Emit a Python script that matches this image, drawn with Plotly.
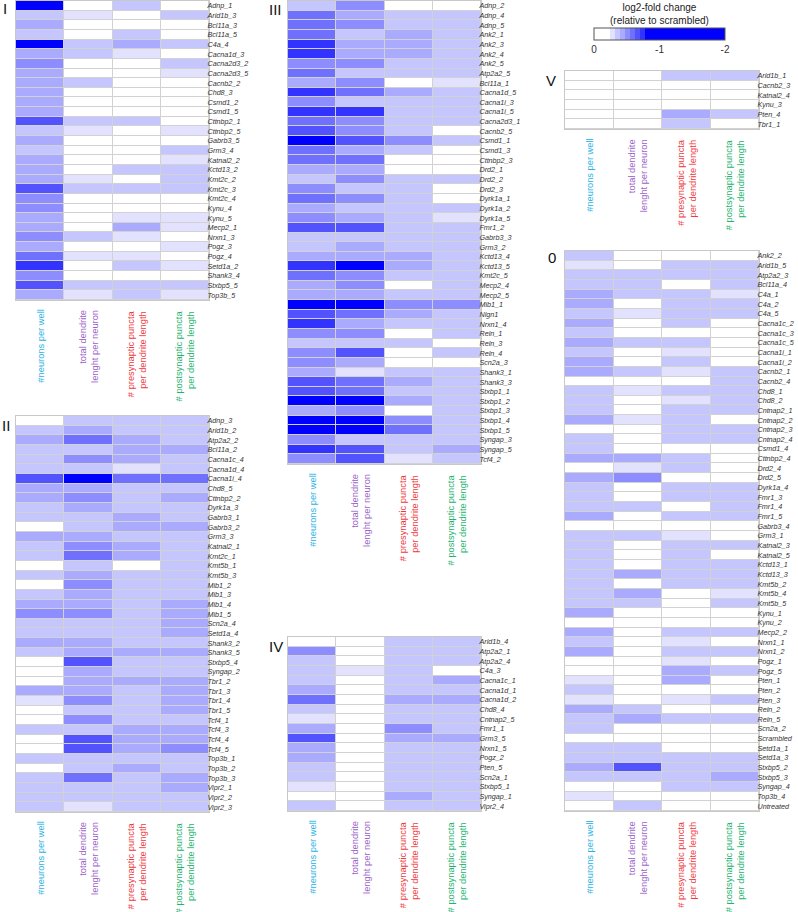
import plotly.graph_objects as go

W, H = 798, 912

# ---------------- column (measure) labels ----------------
measures = ["#neurons per well",
            "total dendrite<br>lenght per neuron",
            "# presynaptic puncta<br>per dendrite length",
            "# postsynaptic puncta<br>per dendrite length"]
measure_colors = ["#27B2E6", "#9A62C8", "#F0383C", "#20B46E"]

# ---------------- Panel I ----------------
I_genes = ["Adnp_1", "Arid1b_3", "Bcl11a_3", "Bcl11a_5", "C4a_4", "Cacna1d_3", "Cacna2d3_2", "Cacna2d3_5",
           "Cacnb2_2", "Chd8_3", "Csmd1_2", "Csmd1_5", "Cttnbp2_1", "Cttnbp2_5", "Gabrb3_5", "Grm3_4",
           "Katnal2_2", "Kctd13_2", "Kmt2c_2", "Kmt2c_3", "Kmt2c_4", "Kynu_4", "Kynu_5", "Mecp2_1",
           "Nrxn1_3", "Pogz_3", "Pogz_4", "Setd1a_2", "Shank3_4", "Stxbp5_5", "Top3b_5"]
I_neurons = [-1.35, -0.36, -0.44, -0.36, -1.25, -0.44, -0.51, -0.44, -0.44, -0.44, -0.44, -0.44, -0.66, -0.36,
             -0.44, -0.36, -0.44, -0.44, -0.44, -0.66, -0.51, -0.51, -0.44, -0.44, -0.51, -0.44, -0.59, -0.74,
             -0.51, -0.66, -0.44]
I_dendrite = [0.0, -0.29, 0.0, 0.0, -0.36, -0.36, 0.0, 0.0, -0.36, 0.0, 0.0, 0.0, -0.36, -0.29, 0.0, 0.0,
              0.0, 0.0, -0.29, -0.36, 0.0, 0.0, 0.0, 0.0, -0.36, 0.0, -0.29, 0.0, 0.0, -0.36, -0.29]
I_pre = [-0.36, 0.0, 0.0, -0.36, -0.44, -0.29, 0.0, 0.0, 0.0, 0.0, 0.0, 0.0, -0.36, 0.0, 0.0, 0.0, 0.0,
         -0.36, 0.0, -0.36, 0.0, 0.0, -0.29, -0.44, -0.29, 0.0, -0.29, -0.36, 0.0, -0.36, -0.36]
I_post = [0.0, -0.36, 0.0, 0.0, -0.36, 0.0, -0.36, -0.29, 0.0, 0.0, 0.0, 0.0, 0.0, -0.29, 0.0, -0.36,
          -0.29, -0.36, -0.36, -0.36, 0.0, 0.0, -0.29, -0.29, 0.0, -0.29, 0.0, -0.29, 0.0, -0.36, -0.29]

# ---------------- Panel II ----------------
II_genes = ["Adnp_3", "Arid1b_2", "Atp2a2_2", "Bcl11a_2", "Cacna1c_4", "Cacna1d_4", "Cacna1i_4", "Chd8_5",
            "Cttnbp2_2", "Dyrk1a_3", "Gabrb3_1", "Gabrb3_2", "Grm3_3", "Katnal2_1", "Kmt2c_1", "Kmt5b_1",
            "Kmt5b_3", "Mib1_2", "Mib1_3", "Mib1_4", "Mib1_5", "Scn2a_4", "Setd1a_4", "Shank3_2", "Shank3_5",
            "Stxbp5_4", "Syngap_2", "Tbr1_2", "Tbr1_3", "Tbr1_4", "Tbr1_5", "Tcf4_1", "Tcf4_3", "Tcf4_4",
            "Tcf4_5", "Top3b_1", "Top3b_2", "Top3b_3", "Vipr2_1", "Vipr2_2", "Vipr2_3"]
II_neurons = [0.0, -0.36, -0.44, -0.36, -0.36, -0.36, -0.66, -0.44, -0.44, -0.36, -0.36, 0.0, -0.44, -0.36,
              -0.36, 0.0, -0.36, 0.0, -0.36, -0.44, -0.51, -0.36, -0.36, -0.44, -0.36, 0.0, 0.0, 0.0, -0.44,
              -0.29, 0.0, 0.0, -0.36, 0.0, 0.0, -0.36, 0.0, -0.36, -0.36, -0.36, -0.36]
II_dendrite = [-0.36, -0.44, -0.59, -0.36, -0.51, -0.36, -1.05, -0.44, -0.51, -0.44, -0.36, -0.36, -0.44,
               -0.51, -0.59, -0.36, -0.44, -0.51, -0.44, -0.44, -0.51, -0.36, -0.36, -0.44, -0.44, -0.66,
               -0.44, -0.44, -0.44, -0.51, -0.36, -0.51, -0.36, -0.66, -0.66, -0.36, -0.36, -0.59, -0.36,
               -0.36, -0.29]
II_pre = [-0.36, -0.36, -0.44, -0.44, -0.44, -0.29, -0.59, -0.36, -0.36, -0.36, -0.44, -0.44, -0.36, -0.44,
          -0.44, 0.0, -0.36, -0.36, -0.36, -0.36, -0.36, -0.36, -0.36, -0.36, -0.44, -0.36, -0.36, -0.44,
          -0.36, -0.36, -0.36, -0.36, -0.44, -0.44, -0.44, -0.36, -0.44, -0.36, -0.36, -0.36, -0.36]
II_post = [-0.36, -0.36, -0.36, -0.44, -0.36, -0.36, -0.59, -0.36, -0.44, -0.36, -0.36, -0.44, -0.36, -0.36,
           -0.36, -0.36, -0.36, -0.36, -0.36, -0.44, -0.44, -0.44, -0.44, -0.36, -0.44, -0.36, -0.36, -0.44,
           -0.44, -0.44, -0.44, -0.36, -0.44, -0.44, -0.51, -0.36, -0.36, -0.44, -0.44, -0.36, -0.36]

# ---------------- Panel III ----------------
III_genes = ["Adnp_2", "Adnp_4", "Adnp_5", "Ank2_1", "Ank2_3", "Ank2_4", "Ank2_5", "Atp2a2_5", "Bcl11a_1",
             "Cacna1d_5", "Cacna1i_3", "Cacna1i_5", "Cacna2d3_1", "Cacnb2_5", "Csmd1_1", "Csmd1_3",
             "Cttnbp2_3", "Drd2_1", "Drd2_2", "Drd2_3", "Dyrk1a_1", "Dyrk1a_2", "Dyrk1a_5", "Fmr1_2",
             "Gabrb3_3", "Grm3_2", "Kctd13_4", "Kctd13_5", "Kmt2c_5", "Mecp2_4", "Mecp2_5", "Mib1_1", "Nlgn1",
             "Nrxn1_4", "Reln_1", "Reln_3", "Reln_4", "Scn2a_3", "Shank3_1", "Shank3_3", "Stxbp1_1",
             "Stxbp1_2", "Stxbp1_3", "Stxbp1_4", "Stxbp1_5", "Syngap_3", "Syngap_5", "Tcf4_2"]
III_neurons = [-0.36, -0.59, -0.59, -0.59, -0.74, -0.74, -0.51, -0.59, -0.44, -0.74, -0.51, -0.74, -0.59,
               -0.66, -1.2, -0.59, -0.59, -0.44, -0.36, -0.51, -0.59, -0.44, -0.51, -0.66, -0.36, -0.36,
               -0.44, -0.74, -0.59, -0.44, -0.44, -1.3, -0.66, -0.74, -0.51, -0.36, -0.51, -0.51, -0.44,
               -0.66, -0.66, -1.4, -0.44, -1.2, -1.3, -0.51, -0.74, -0.51]
III_dendrite = [-0.51, -0.44, -0.51, -0.36, -0.44, -0.44, -0.51, -0.36, -0.51, -0.59, -0.36, -0.74, -0.51,
                -0.51, -0.66, -0.44, -0.59, -0.44, -0.51, -0.36, -0.51, -0.36, -0.44, -0.66, -0.36, -0.44,
                -0.44, -0.95, -0.51, -0.51, -0.44, -1.0, -0.59, -0.44, -0.51, -0.36, -0.66, -0.44, -0.29,
                -0.59, -0.59, -1.3, -0.51, -1.1, -1.25, -0.36, -0.66, -0.66]
III_pre = [0.0, -0.36, -0.36, -0.44, -0.44, -0.44, -0.36, -0.36, 0.0, -0.44, -0.36, -0.36, -0.36, -0.36,
           -0.51, -0.36, 0.0, 0.0, -0.36, -0.36, -0.36, -0.36, -0.36, -0.36, -0.36, -0.36, -0.44, -0.44,
           -0.36, 0.0, -0.36, -0.51, -0.44, -0.36, 0.0, -0.36, 0.0, 0.0, -0.36, -0.44, -0.36, -0.44, 0.0,
           -0.51, -0.59, -0.36, -0.36, -0.29]
III_post = [0.0, -0.36, -0.36, -0.36, -0.36, -0.36, -0.36, -0.36, -0.29, -0.36, -0.36, -0.36, -0.36, 0.0,
            -0.36, 0.0, 0.0, 0.0, -0.36, 0.0, 0.0, -0.36, -0.29, -0.36, -0.36, -0.36, -0.36, -0.36, -0.36,
            -0.36, -0.36, -0.51, -0.36, -0.36, -0.36, 0.0, -0.36, 0.0, -0.36, -0.36, -0.36, -0.36, -0.36,
            -0.36, -0.36, -0.36, -0.44, -0.36]

# ---------------- Panel IV ----------------
IV_genes = ["Arid1b_4", "Atp2a2_1", "Atp2a2_4", "C4a_3", "Cacna1c_1", "Cacna1d_1", "Cacna1d_2", "Chd8_4",
            "Cntnap2_5", "Fmr1_1", "Grm3_5", "Nrxn1_5", "Pogz_2", "Pten_5", "Scn2a_1", "Stxbp5_1",
            "Syngap_1", "Vipr2_4"]
IV_neurons = [0.0, -0.51, -0.36, -0.36, -0.36, -0.44, -0.59, -0.36, -0.29, -0.44, -0.66, -0.44, -0.44,
              -0.36, -0.36, -0.29, 0.0, -0.36]
IV_dendrite = [0.0, 0.0, 0.0, -0.29, 0.0, 0.0, 0.0, 0.0, 0.0, 0.0, 0.0, 0.0, 0.0, 0.0, 0.0, 0.0, 0.0, 0.0]
IV_pre = [-0.36, -0.36, -0.36, -0.36, -0.36, -0.36, -0.44, -0.36, -0.36, -0.51, -0.44, -0.36, -0.36, -0.36,
          -0.36, -0.36, -0.44, -0.36]
IV_post = [-0.36, -0.36, -0.36, 0.0, -0.44, -0.36, -0.44, -0.36, -0.36, -0.36, -0.44, -0.36, -0.36, -0.36,
           -0.36, -0.36, -0.36, -0.36]

# ---------------- Panel V ----------------
V_genes = ["Arid1b_1", "Cacnb2_3", "Katnal2_4", "Kynu_3", "Pten_4", "Tbr1_1"]
V_neurons = [0.0, 0.0, 0.0, 0.0, 0.0, 0.0]
V_dendrite = [0.0, 0.0, 0.0, 0.0, 0.0, 0.0]
V_pre = [-0.36, 0.0, 0.0, 0.0, -0.44, -0.36]
V_post = [-0.36, 0.0, 0.0, 0.0, -0.36, 0.0]

# ---------------- Panel 0 ----------------
O_genes = ["Ank2_2", "Arid1b_5", "Atp2a2_3", "Bcl11a_4", "C4a_1", "C4a_2", "C4a_5", "Cacna1c_2", "Cacna1c_3",
           "Cacna1c_5", "Cacna1i_1", "Cacna1i_2", "Cacnb2_1", "Cacnb2_4", "Chd8_1", "Chd8_2", "Cntnap2_1",
           "Cntnap2_2", "Cntnap2_3", "Cntnap2_4", "Csmd1_4", "Cttnbp2_4", "Drd2_4", "Drd2_5", "Dyrk1a_4",
           "Fmr1_3", "Fmr1_4", "Fmr1_5", "Gabrb3_4", "Grm3_1", "Katnal2_3", "Katnal2_5", "Kctd13_1",
           "Kctd13_3", "Kmt5b_2", "Kmt5b_4", "Kmt5b_5", "Kynu_1", "Kynu_2", "Mecp2_2", "Nrxn1_1", "Nrxn1_2",
           "Pogz_1", "Pogz_5", "Pten_1", "Pten_2", "Pten_3", "Reln_2", "Reln_5", "Scn2a_2", "Scrambled",
           "Setd1a_1", "Setd1a_3", "Stxbp5_2", "Stxbp5_3", "Syngap_4", "Top3b_4", "Untreated"]
O_neurons = [-0.36, -0.29, -0.36, -0.36, -0.44, -0.44, -0.36, -0.44, -0.36, -0.44,
             -0.36, -0.44, -0.44, 0.0, -0.36, -0.36, -0.36, -0.44, 0.0, -0.36,
             -0.36, -0.44, 0.0, -0.44, -0.36, -0.36, -0.36, -0.44, 0.0, -0.36,
             -0.36, -0.36, -0.36, -0.36, -0.36, -0.36, -0.36, -0.44, 0.0, -0.44,
             -0.36, -0.44, 0.0, 0.0, -0.29, -0.36, -0.29, -0.44, -0.36, -0.36,
             0.0, -0.36, -0.36, -0.44, -0.36, 0.0, -0.29, 0.0]
O_dendrite = [0.0, 0.0, -0.36, -0.36, -0.36, 0.0, -0.29, 0.0, 0.0, -0.36,
              0.0, 0.0, -0.36, 0.0, -0.29, 0.0, 0.0, -0.29, 0.0, 0.0,
              0.0, -0.44, -0.29, -0.51, 0.0, 0.0, -0.36, 0.0, 0.0, -0.36,
              0.0, 0.0, 0.0, -0.44, 0.0, -0.44, -0.36, 0.0, 0.0, 0.0,
              0.0, 0.0, 0.0, 0.0, 0.0, 0.0, 0.0, -0.36, -0.44, 0.0,
              0.0, -0.36, -0.36, -0.66, -0.36, 0.0, 0.0, -0.36]
O_pre = [0.0, -0.36, -0.36, 0.0, -0.36, -0.36, -0.36, -0.36, 0.0, -0.36,
         -0.29, -0.36, -0.29, 0.0, -0.36, -0.29, -0.36, -0.36, -0.36, -0.36,
         0.0, -0.36, -0.36, 0.0, -0.36, -0.36, 0.0, -0.36, 0.0, -0.29,
         -0.36, -0.36, -0.36, -0.36, -0.36, 0.0, 0.0, 0.0, 0.0, -0.36,
         -0.29, -0.36, -0.29, -0.44, -0.44, 0.0, -0.29, 0.0, -0.36, 0.0,
         0.0, 0.0, -0.36, -0.36, -0.36, -0.36, 0.0, 0.0]
O_post = [0.0, -0.36, -0.36, -0.36, -0.29, -0.36, -0.36, 0.0, 0.0, 0.0,
          0.0, 0.0, -0.36, -0.36, -0.36, -0.36, -0.36, 0.0, -0.36, -0.36,
          0.0, 0.0, 0.0, 0.0, -0.36, -0.36, -0.36, -0.36, 0.0, 0.0,
          -0.36, 0.0, -0.36, -0.36, -0.36, -0.29, -0.36, 0.0, 0.0, -0.36,
          0.0, -0.36, 0.0, -0.36, 0.0, 0.0, -0.36, 0.0, -0.36, 0.0,
          0.0, 0.0, -0.36, -0.36, -0.44, -0.36, 0.0, 0.0]

# ---------------- colour scale (stepped, white above -0.25, solid blue below -0.775) ----------------
band_colors = ["#E2E2FF", "#C6C6FF", "#AAAAFF", "#8D8DFF", "#7070FF", "#5252FF", "#3333FF"]
colorscale = [[0.0, "#FFFFFF"], [0.125, "#FFFFFF"]]
edges = [0.125, 0.1625, 0.2, 0.2375, 0.275, 0.3125, 0.35, 0.3875]
for k, c in enumerate(band_colors):
    colorscale += [[edges[k], c], [edges[k + 1], c]]
colorscale += [[0.3875, "#0000FF"], [1.0, "#0000FF"]]

# name, genes, columns, pixel box (left, right, top, bottom), roman label position
panels = [
    ("I", I_genes, [I_neurons, I_dendrite, I_pre, I_post], (16, 209, 1, 300), (5, 9)),
    ("II", II_genes, [II_neurons, II_dendrite, II_pre, II_post], (16, 209, 416, 812), (6, 426)),
    ("III", III_genes, [III_neurons, III_dendrite, III_pre, III_post], (288, 481, 1, 464), (275, 10)),
    ("IV", IV_genes, [IV_neurons, IV_dendrite, IV_pre, IV_post], (288, 481, 637, 811), (276, 646)),
    ("V", V_genes, [V_neurons, V_dendrite, V_pre, V_post], (565, 759, 71, 129), (551, 80)),
    ("0", O_genes, [O_neurons, O_dendrite, O_pre, O_post], (565, 759, 251, 811), (552, 257)),
]

FONT = "Liberation Sans, Arial, Helvetica, sans-serif"
fig = go.Figure()
layout = {}
annotations = []

for i, (name, genes, cols, box, lab) in enumerate(panels):
    left, right, top, bottom = box
    n = len(genes)
    z = [[-cols[c][r] for c in range(4)] for r in range(n)]
    sfx = "" if i == 0 else str(i + 1)
    fig.add_trace(go.Heatmap(
        z=z, x=[0, 1, 2, 3], y=list(range(n)),
        coloraxis="coloraxis", xgap=1, ygap=1,
        xaxis="x" + sfx, yaxis="y" + sfx,
        customdata=[[-v for v in row] for row in z],
        hovertemplate="%{customdata:.2f}<extra></extra>",
    ))
    layout["xaxis" + sfx] = dict(
        domain=[left / W, right / W], range=[-0.5, 3.5], anchor="y" + sfx,
        showticklabels=False, showgrid=False, zeroline=False, ticks="",
        showline=True, mirror=True, linecolor="#C8C8C8", linewidth=1, fixedrange=True)
    layout["yaxis" + sfx] = dict(
        domain=[1 - bottom / H, 1 - top / H], range=[n - 0.5, -0.5], anchor="x" + sfx,
        side="right", tickmode="array", tickvals=list(range(n)), ticktext=genes, ticks="",
        ticklabelstandoff=-4,
        tickfont=dict(size=7.2, style="italic", color="#333333", family=FONT),
        showgrid=False, zeroline=False, showline=True, mirror=True,
        linecolor="#C8C8C8", linewidth=1, fixedrange=True)
    # panel roman numeral
    annotations.append(dict(text=name, x=lab[0] / W, y=1 - lab[1] / H, xref="paper", yref="paper",
                            xanchor="center", yanchor="middle", showarrow=False,
                            font=dict(size=15, color="#111111", family=FONT)))
    # measure labels under each column
    cw = (right - left) / 4
    for c in range(4):
        annotations.append(dict(text=measures[c], x=(left + (c + 0.5) * cw) / W, y=1 - (bottom + 8) / H,
                                xref="paper", yref="paper", xanchor="center", yanchor="top",
                                textangle=-90, align="right", showarrow=False,
                                font=dict(size=9.3, color=measure_colors[c], family=FONT)))

# colour bar title
annotations.append(dict(text="log2-fold change<br>(relative to scrambled)", x=659.5 / W, y=1 - 0 / H,
                        xref="paper", yref="paper", xanchor="center", yanchor="top", showarrow=False,
                        font=dict(size=10, color="#222222", family=FONT)))

layout.update(dict(
    width=W, height=H, margin=dict(l=0, r=0, t=0, b=0),
    paper_bgcolor="white", plot_bgcolor="#D2D2D2",
    font=dict(family=FONT, color="#222222"),
    annotations=annotations, showlegend=False,
    coloraxis=dict(
        cmin=0, cmax=2, colorscale=colorscale,
        colorbar=dict(orientation="h", x=659.5 / W, xanchor="center", y=1 - 28 / H, yanchor="top",
                      len=131 / W, lenmode="fraction", thickness=12, thicknessmode="pixels",
                      xpad=0, ypad=0, outlinewidth=1, outlinecolor="#555555",
                      tickmode="array", tickvals=[0, 1, 2], ticktext=["0", "-1", "-2"], ticks="",
                      tickfont=dict(size=10, color="#333333", family=FONT))),
))
fig.update_layout(**layout)
fig.write_html("out.html", config={"displayModeBar": False},
               post_script="document.body.style.margin='0';document.body.style.overflow='hidden';")
